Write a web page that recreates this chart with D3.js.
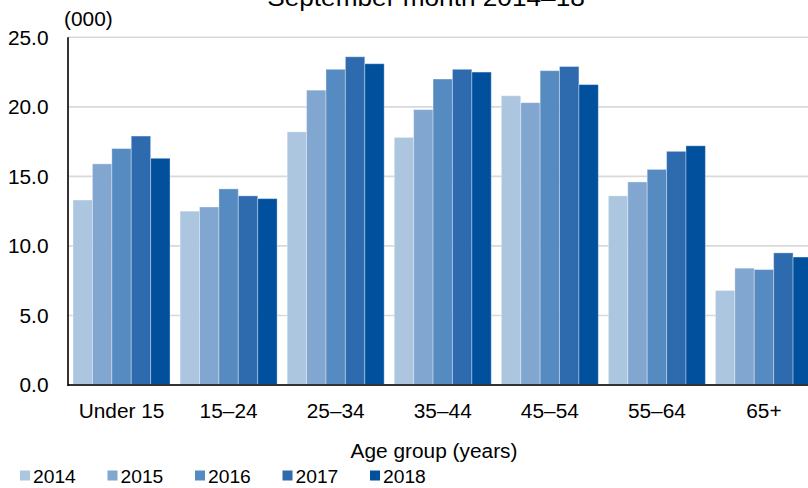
<!DOCTYPE html>
<html>
<head>
<meta charset="utf-8">
<script src="https://cdn.jsdelivr.net/npm/d3@7"></script>
<style>
  html, body { margin: 0; padding: 0; background: #fff; overflow: hidden; }
  svg { display: block; }
  text { font-family: "Liberation Sans", Arial, sans-serif; fill: #000; }
</style>
</head>
<body>
<svg id="chart" width="808" height="488"></svg>
<script>
const categories = ["Under 15", "15–24", "25–34", "35–44", "45–54", "55–64", "65+"];
const years = ["2014", "2015", "2016", "2017", "2018"];
const v2014 = [13.3, 12.5, 18.2, 17.8, 20.8, 13.6, 6.8];
const v2015 = [15.9, 12.8, 21.2, 19.8, 20.3, 14.6, 8.4];
const v2016 = [17.0, 14.1, 22.7, 22.0, 22.6, 15.5, 8.3];
const v2017 = [17.9, 13.6, 23.6, 22.7, 22.9, 16.8, 9.5];
const v2018 = [16.3, 13.4, 23.1, 22.5, 21.6, 17.2, 9.2];
const yTicks = [0, 5, 10, 15, 20, 25];
const colors = ["#adc6e0", "#81a6d0", "#568bc1", "#2d6aae", "#00509e"];
const title = "September month 2014–18";
const unitLabel = "(000)";
const xTitle = "Age group (years)";

const series = [v2014, v2015, v2016, v2017, v2018];
const svg = d3.select("#chart");
const SX = 1.07;

const y = d3.scaleLinear().domain([0, 25]).range([385, 37.3]);
const x0 = d3.scaleBand().domain(categories).range([68, 817.5])
  .paddingInner(0.094).paddingOuter(0.047);
const x1 = d3.scaleBand().domain(years).range([0, x0.bandwidth()]).padding(0);
const color = d3.scaleOrdinal().domain(years).range(colors);

function txt(parent, s, x, yy, size, anchor) {
  return parent.append("text")
    .attr("transform", `translate(${x},${yy}) scale(${SX},1)`)
    .attr("text-anchor", anchor || "start")
    .style("font-size", size + "px")
    .text(s);
}

// gridlines
svg.append("g").selectAll("line").data(yTicks.filter(d => d > 0)).join("line")
  .attr("x1", 68).attr("x2", 808)
  .attr("y1", d => y(d)).attr("y2", d => y(d))
  .attr("stroke", "#d9d9d9").attr("stroke-width", 1.6);

// bars
const groups = svg.append("g").selectAll("g").data(categories).join("g")
  .attr("transform", d => `translate(${x0(d)},0)`);
groups.selectAll("rect")
  .data((c, i) => years.map((yr, j) => ({ yr, v: series[j][i] })))
  .join("rect")
  .attr("x", d => x1(d.yr))
  .attr("width", x1.bandwidth())
  .attr("y", d => y(d.v))
  .attr("height", d => y(0) - y(d.v))
  .attr("fill", d => color(d.yr))
  .attr("stroke", "rgba(255,255,255,0.35)")
  .attr("stroke-width", 1);

// axes lines
svg.append("line").attr("x1", 68).attr("x2", 808).attr("y1", y(0)).attr("y2", y(0))
  .attr("stroke", "#333").attr("stroke-width", 1.8);
svg.append("line").attr("x1", 68).attr("x2", 68).attr("y1", y(25)).attr("y2", y(0) + 1)
  .attr("stroke", "#000").attr("stroke-width", 1.6);

// y tick labels
yTicks.forEach(t => txt(svg, d3.format(".1f")(t), 48.5, y(t) + 7.3, 19.5, "end"));

// x tick labels
categories.forEach(c => txt(svg, c, x0(c) + x0.bandwidth() / 2, 418, 19.5, "middle"));

// titles
txt(svg, title, 426, 6, 24.5, "middle");
txt(svg, unitLabel, 64, 26, 19.5, "start");
txt(svg, xTitle, 434, 458, 19.5, "middle");

// legend
const lg = svg.append("g").selectAll("g").data(years).join("g")
  .attr("transform", (d, i) => `translate(${20 + i * 87.5},0)`);
lg.append("rect").attr("x", 0).attr("y", 470.5).attr("width", 10).attr("height", 10)
  .attr("fill", d => color(d));
lg.each(function(d) { txt(d3.select(this), d, 13, 483, 18, "start"); });
</script>
</body>
</html>
